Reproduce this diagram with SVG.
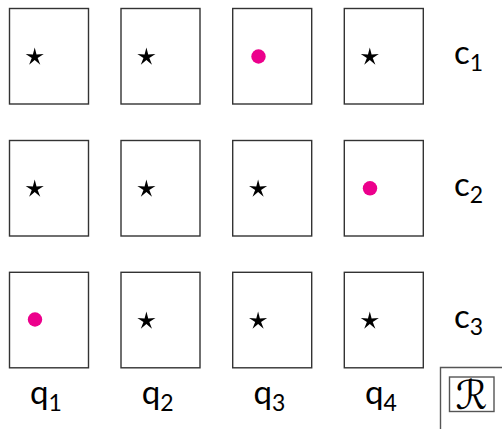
<svg xmlns="http://www.w3.org/2000/svg" width="502" height="429" viewBox="0 0 502 429">
<style>
.box{fill:#fff;stroke:#333;stroke-width:1.4}
.dot{fill:#ec008c}
.lab{font-family:Lato,"Noto Sans",sans-serif;font-size:33px;fill:#000}
.sub{font-size:23px}
.frame{fill:none;stroke:#555;stroke-width:1.4}
.scr{font-family:"DejaVu Serif","DejaVu Sans",serif;font-size:40px;fill:#000;text-anchor:middle}
</style>
<defs>
<polygon id="star" fill="#000" points="0,-9.5 1.822,-2.508 9.035,-2.936 2.949,0.958 5.584,7.686 0,3.1 -5.584,7.686 -2.949,0.958 -9.035,-2.936 -1.822,-2.508"/>
</defs>
<rect width="502" height="429" fill="#fff"/>
<g id="r1c1"><rect class="box" x="9.5" y="8.5" width="79" height="95.5"/><use href="#star" x="34.7" y="57"/></g>
<g id="r1c2"><rect class="box" x="121" y="8.5" width="79" height="95.5"/><use href="#star" x="146.4" y="57"/></g>
<g id="r1c3"><rect class="box" x="232.7" y="8.5" width="79" height="95.5"/><circle class="dot" cx="258.5" cy="56.5" r="7.2"/></g>
<g id="r1c4"><rect class="box" x="344.3" y="8.5" width="79" height="95.5"/><use href="#star" x="369.8" y="57"/></g>
<g id="r2c1"><rect class="box" x="9.5" y="140.5" width="79" height="95.5"/><use href="#star" x="34.7" y="189"/></g>
<g id="r2c2"><rect class="box" x="121" y="140.5" width="79" height="95.5"/><use href="#star" x="146.4" y="189"/></g>
<g id="r2c3"><rect class="box" x="232.7" y="140.5" width="79" height="95.5"/><use href="#star" x="258.1" y="189"/></g>
<g id="r2c4"><rect class="box" x="344.3" y="140.5" width="79" height="95.5"/><circle class="dot" cx="370" cy="188.3" r="7.2"/></g>
<g id="r3c1"><rect class="box" x="9.5" y="272.3" width="79" height="95.5"/><circle class="dot" cx="35" cy="319.5" r="7.2"/></g>
<g id="r3c2"><rect class="box" x="121" y="272.3" width="79" height="95.5"/><use href="#star" x="146.4" y="321"/></g>
<g id="r3c3"><rect class="box" x="232.7" y="272.3" width="79" height="95.5"/><use href="#star" x="258.1" y="321"/></g>
<g id="r3c4"><rect class="box" x="344.3" y="272.3" width="79" height="95.5"/><use href="#star" x="369.8" y="321"/></g>
<g id="rowlabels">
<text class="lab" x="454" y="64">c<tspan class="sub" dy="7">1</tspan></text>
<text class="lab" x="454" y="196">c<tspan class="sub" dy="7">2</tspan></text>
<text class="lab" x="454" y="328">c<tspan class="sub" dy="7">3</tspan></text>
</g>
<g id="collabels">
<text class="lab" x="30" y="404">q<tspan class="sub" dy="7">1</tspan></text>
<text class="lab" x="141.7" y="404">q<tspan class="sub" dy="7">2</tspan></text>
<text class="lab" x="253.4" y="404">q<tspan class="sub" dy="7">3</tspan></text>
<text class="lab" x="365" y="404">q<tspan class="sub" dy="7">4</tspan></text>
</g>
<g id="legend">
<path class="frame" d="M440.5 429 V367.5 H502"/>
<rect class="frame" x="449.5" y="377" width="44.5" height="34.5"/>
<text class="scr" x="471.5" y="409">ℛ</text>
</g>
</svg>
